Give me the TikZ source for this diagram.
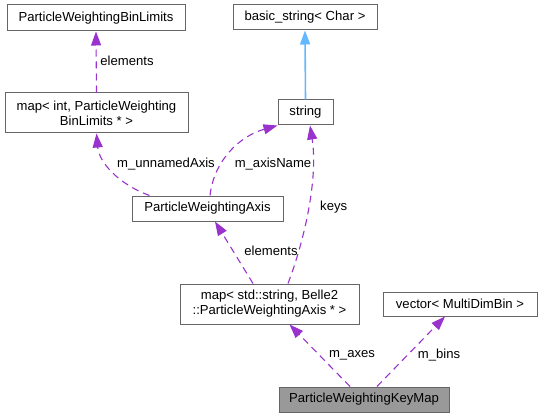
\documentclass[tikz,border=0pt]{standalone}
\usepackage{fontspec}
\setmainfont{Liberation Sans}
\usepackage{tikz}
\usetikzlibrary{arrows.meta}
\usetikzlibrary{positioning}

\definecolor{edgepurple}{HTML}{9A32CD}
\definecolor{edgeblue}{HTML}{63B8FF}
\definecolor{boxgray}{HTML}{666666}
\definecolor{fillgray}{HTML}{999999}

\tikzset{
    cls/.style={draw=boxgray, line width=1pt, fill=white, inner sep=0pt, align=center,
        font=\fontsize{13.1}{15}\selectfont},
    usage/.style={edgepurple, line width=1.1pt, dash pattern=on 7pt off 5pt,
        -{Triangle[length=14pt,width=10pt]}},
    inherit/.style={edgeblue, line width=1.6pt, -{Triangle[length=14pt,width=10pt]}},
    lbl/.style={inner sep=0pt, font=\fontsize{13.1}{15}\selectfont}
}

\begin{document}
\begin{tikzpicture}[x=1pt, y=-1pt]
\useasboundingbox (0,0) rectangle (541,417);

% Classes
\node[cls, minimum width=178pt, minimum height=26pt] (binlimits) at (96,18) {ParticleWeightingBinLimits};
\node[cls, minimum width=144pt, minimum height=25pt] (basicstring) at (305,17.5) {basic\_string< Char >};
\node[cls, minimum width=183pt, minimum height=40pt] (mapint) at (96.5,113) {map< int, ParticleWeighting\\BinLimits * >};
\node[cls, minimum width=55pt, minimum height=25pt] (string) at (305.5,112.5) {string};
\node[cls, minimum width=151pt, minimum height=25pt] (axis) at (207.5,208.5) {ParticleWeightingAxis};
\node[cls, minimum width=179pt, minimum height=40pt] (mapstring) at (269.5,304) {map< std::string, Belle2\\::ParticleWeightingAxis * >};
\node[cls, minimum width=154pt, minimum height=24pt] (vector) at (460,304) {vector< MultiDimBin >};
\node[cls, fill=fillgray, minimum width=170pt, minimum height=25pt] (keymap) at (364,399.5) {ParticleWeightingKeyMap};

% Inheritance
\draw[inherit] (string.north) -- (basicstring.south);

% Members
\draw[usage] (mapint.north) -- (binlimits.south);
\draw[usage] ([xshift=18pt]axis.north west) .. controls (118,184) and (99,162) .. (mapint.south);
\draw[usage] ([xshift=2.5pt]axis.north) .. controls (214,160) and (240,136) .. (string.south west);
\draw[usage] ([xshift=-16.5pt]mapstring.north) -- ([xshift=7.5pt]axis.south);
\draw[usage] ([xshift=18.5pt]mapstring.north) .. controls (306,236) and (318,176) .. ([xshift=4.5pt]string.south);
\draw[usage] ([xshift=-14pt]keymap.north) -- ([xshift=20pt]mapstring.south);
\draw[usage] ([xshift=13pt]keymap.north) -- ([xshift=-15pt]vector.south);

% Labels
\node[lbl] (lelements) at (127,61) {elements};
\node[lbl] (lunnamed) at (166,164) {m\_unnamedAxis};
\node[lbl] (laxisname) at (273,164) {m\_axisName};
\node[lbl] (lelements2) at (271,251) {elements};
\node[lbl, anchor=west] (lkeys) at (320,207) {keys};
\node[lbl] (laxes) at (352,355) {m\_axes};
\node[lbl] (lbins) at (439,355) {m\_bins};
\end{tikzpicture}
\end{document}
